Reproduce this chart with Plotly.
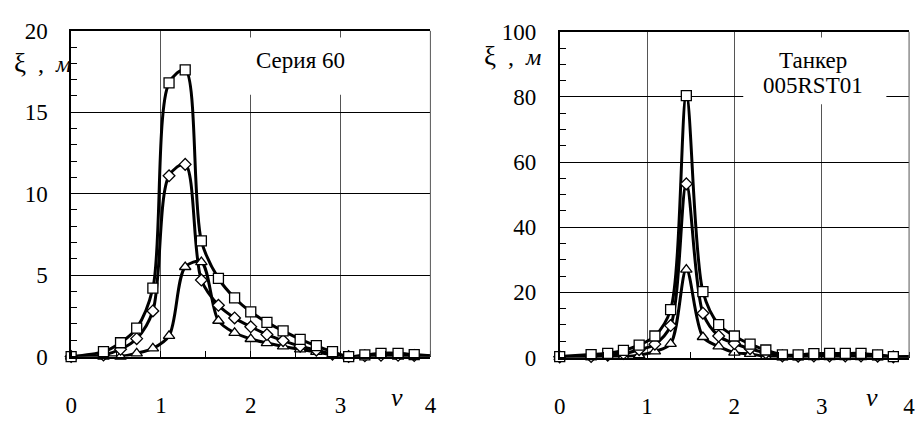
import plotly.graph_objects as go

# ---- data ----
nu = [0, 0.36, 0.55, 0.73, 0.91, 1.09, 1.27, 1.45, 1.64, 1.82, 2.0, 2.18,
      2.36, 2.55, 2.73, 2.91, 3.09, 3.27, 3.45, 3.64, 3.82, 4.0]

# Серия 60
s60_sq = [0, 0.3, 0.85, 1.75, 4.2, 16.8, 17.6, 7.1, 4.8, 3.6, 2.75, 2.1,
          1.58, 1.06, 0.67, 0.3, 0.0, 0.1, 0.2, 0.2, 0.12, 0.05]
s60_di = [0, 0.1, 0.45, 1.1, 2.8, 11.1, 11.8, 4.7, 3.15, 2.37, 1.83, 1.35,
          0.98, 0.64, 0.39, 0.15, 0.0, 0.05, 0.08, 0.08, 0.06, 0.03]
s60_tr = [0, 0.0, 0.0, 0.2, 0.5, 1.27, 5.5, 5.8, 2.2, 1.46, 1.08, 0.83,
          0.62, 0.44, 0.29, 0.1, 0.0, -0.03, -0.03, 0.0, 0.03, 0.02]

# Танкер 005RST01
tk_sq = [0.3, 0.9, 1.3, 2.2, 3.8, 6.6, 14.7, 80.4, 20.2, 10.1, 6.6, 4.1,
         2.3, 0.8, 0.8, 1.2, 1.25, 1.25, 1.25, 0.8, 0.3, 0.3]
tk_di = [0.2, 0.3, 0.7, 1.2, 2.4, 4.1, 9.8, 53.3, 13.6, 6.6, 4.3, 2.7,
         1.4, 0.5, 0.4, 0.5, 0.5, 0.5, 0.5, 0.4, 0.2, 0.2]
tk_tr = [0.1, 0.1, 0.2, 0.3, 0.7, 1.9, 4.2, 27.0, 6.3, 3.4, 1.5, 1.1,
         0.3, 0.1, 0.1, 0.1, 0.1, 0.1, 0.1, 0.1, 0.1, 0.1]

x_ticks = [0, 1, 2, 3, 4]
y1_ticks = [0, 5, 10, 15, 20]
y2_ticks = [0, 20, 40, 60, 80, 100]

W, H = 920, 427
FONT = "Liberation Serif"


def px_x(p):
    return p / W


def px_y(p):
    return 1 - p / H


fig = go.Figure()

symbols = [("triangle-up", 10), ("diamond", 9), ("square", 10)]


def add_series(xa, ya, series):
    for ys in series:
        fig.add_trace(go.Scatter(x=nu, y=ys, xaxis=xa, yaxis=ya, mode="lines",
                                 line=dict(color="black", width=3, shape="spline", smoothing=0.9),
                                 showlegend=False, hoverinfo="skip"))
    for ys, (sym, sz) in zip(series, symbols):
        fig.add_trace(go.Scatter(x=nu[:-1], y=ys[:-1], xaxis=xa, yaxis=ya, mode="markers",
                                 marker=dict(symbol=sym, size=sz, color="white",
                                             line=dict(width=1.3, color="black")),
                                 cliponaxis=False, showlegend=False))


add_series("x", "y", [s60_tr, s60_di, s60_sq])
add_series("x2", "y2", [tk_tr, tk_di, tk_sq])

xcommon = dict(range=[0, 4], tickvals=x_ticks, ticktext=[str(v) for v in x_ticks],
               showgrid=True, gridcolor="#555", gridwidth=1,
               showline=True, linecolor="black", linewidth=1.5, mirror=True,
               ticks="", ticklabelstandoff=27, zeroline=False,
               tickfont=dict(family=FONT, size=23, color="black"),
               minor=dict(dtick=0.5, tick0=0, ticks="inside", ticklen=6,
                          tickcolor="black", tickwidth=1, showgrid=False))

ycommon = dict(showgrid=True, gridcolor="black", gridwidth=1,
               showline=True, linecolor="black", linewidth=1.5,
               ticks="", ticklabelstandoff=17, zeroline=False,
               tickfont=dict(family=FONT, size=23, color="black"))

fig.update_layout(
    width=W, height=H, margin=dict(l=0, r=0, t=0, b=0),
    paper_bgcolor="white", plot_bgcolor="white",
    xaxis=dict(domain=[px_x(66), px_x(430)], anchor="y", **xcommon),
    yaxis=dict(domain=[px_y(366), px_y(20)], anchor="x", range=[0, 20], tickvals=y1_ticks,
               minor=dict(dtick=1, ticks="inside", ticklen=6, tickcolor="black", showgrid=False),
               **ycommon),
    xaxis2=dict(domain=[px_x(561), px_x(915)], anchor="y2", **xcommon),
    yaxis2=dict(domain=[px_y(367), px_y(21)], anchor="x2", range=[0, 100], tickvals=y2_ticks,
                minor=dict(dtick=5, ticks="inside", ticklen=7, tickcolor="black", showgrid=False),
                **ycommon),
)

shapes = [
    dict(type="line", xref="x domain", yref="y domain", x0=1, x1=1, y0=0, y1=1,
         line=dict(color="#555", width=1)),
    dict(type="line", xref="x2 domain", yref="y2 domain", x0=1, x1=1, y0=0, y1=1,
         line=dict(color="#555", width=1)),
    dict(type="rect", xref="paper", yref="paper", x0=px_x(242), x1=px_x(352),
         y0=px_y(88), y1=px_y(27), fillcolor="white", line=dict(width=0), layer="above"),
    dict(type="rect", xref="paper", yref="paper", x0=px_x(747), x1=px_x(892),
         y0=px_y(98), y1=px_y(27), fillcolor="white", line=dict(width=0), layer="above"),
]
fig.update_layout(shapes=shapes)

ytitle = '<span style="font-size:27px">ξ</span>\u00a0\u00a0,\u00a0\u00a0<i>м</i>'
ann = [
    dict(text="Серия 60", x=px_x(298), y=px_y(52), font=dict(size=23)),
    dict(text="Танкер", x=px_x(818), y=px_y(52), font=dict(size=23)),
    dict(text="005RST01", x=px_x(818), y=px_y(78), font=dict(size=23)),
    dict(text=ytitle, x=px_x(68), y=px_y(54), xanchor="right", font=dict(size=24)),
    dict(text=ytitle, x=px_x(544), y=px_y(47), xanchor="right", font=dict(size=24)),
    dict(text="<i>ν</i>", x=px_x(396), y=0, yanchor="bottom", font=dict(size=26)),
    dict(text="<i>ν</i>", x=px_x(877), y=0, yanchor="bottom", font=dict(size=26)),
]
for a in ann:
    a.setdefault("xanchor", "center")
    a.setdefault("yanchor", "middle")
    a["font"] = dict(family=FONT, color="black", **a["font"])
    fig.add_annotation(xref="paper", yref="paper", showarrow=False, **a)

fig.write_html("out.html")
